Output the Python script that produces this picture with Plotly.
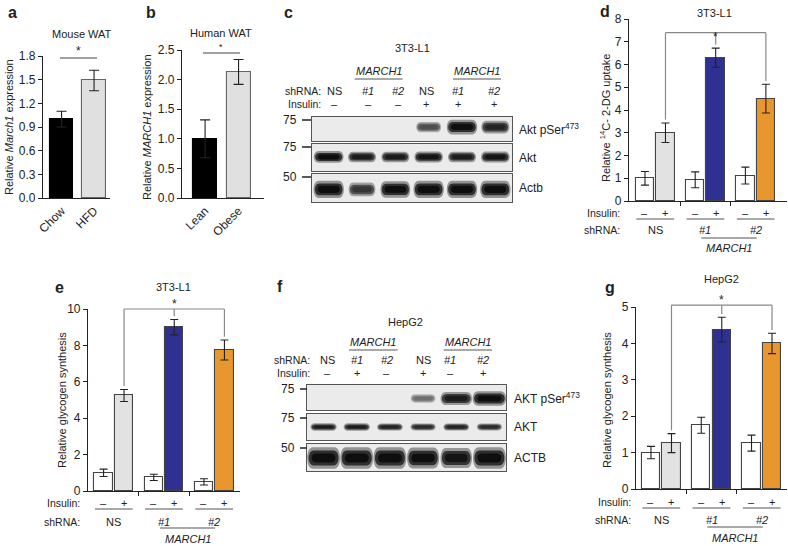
import plotly.graph_objects as go

W, H = 788, 546
FONT = 'Liberation Sans, Arial, Helvetica, sans-serif'
INK = '#222222'

# ---- data ----
mouse_groups = ['Chow', 'HFD']
mouse_march1 = [1.0, 1.49]
mouse_march1_err = [0.1, 0.13]

human_groups = ['Lean', 'Obese']
human_march1 = [1.0, 2.13]
human_march1_err = [0.32, 0.21]

# bar order: NS -, NS +, #1 -, #1 +, #2 -, #2 +
bar_shrna = ['NS', '#1', '#2']
bar_insulin = ['–', '+', '–', '+', '–', '+']
dg_uptake_3t3 = [1.0, 3.0, 0.93, 6.3, 1.12, 4.5]
dg_uptake_3t3_err = [0.3, 0.43, 0.35, 0.42, 0.37, 0.63]
glycogen_3t3 = [1.0, 5.25, 0.75, 9.0, 0.5, 7.75]
glycogen_3t3_err = [0.2, 0.33, 0.17, 0.42, 0.17, 0.55]
glycogen_hepg2 = [1.0, 1.26, 1.75, 4.38, 1.26, 4.0]
glycogen_hepg2_err = [0.17, 0.26, 0.22, 0.34, 0.22, 0.28]

# western blots, band intensity per lane
blot_shrna = ['NS', '#1', '#2', 'NS', '#1', '#2']
c_insulin = ['–', '–', '–', '+', '+', '+']
f_insulin = ['–', '+', '–', '+', '–', '+']
c_akt_p473 = [0, 0, 0, 0.55, 1.0, 0.8]
c_akt = [1.0, 0.85, 0.85, 0.9, 0.85, 0.9]
c_actb = [1.0, 0.7, 0.95, 1.0, 1.0, 1.0]
f_akt_p473 = [0, 0, 0, 0.35, 0.85, 1.0]
f_akt = [0.85, 0.85, 0.8, 0.75, 0.8, 0.75]
f_actb = [1.0, 1.0, 1.0, 0.95, 0.9, 1.0]

bar_colors = ['#ffffff', '#e2e2e2', '#ffffff', '#2e3192', '#ffffff', '#e8962e']
bar_x = [g * 2.45 + j for g in range(3) for j in range(2)]
group_x = [g * 2.45 + 0.5 for g in range(3)]


def X(p):
    return p / W


def Y(p):
    return 1 - p / H


fig = go.Figure()
annotations = []
shapes = []


def text(x, y, s, size=11, xanchor='center', xref='paper', **kw):
    annotations.append(dict(
        x=X(x) if xref == 'paper' else x, y=Y(y), xref=xref, yref='paper',
        text=s, showarrow=False, xanchor=xanchor, yanchor='middle',
        font=dict(size=size, color=INK, family=FONT), **kw))


def hline(x0, x1, y, xref='paper', color='#555555', width=1.2):
    if xref == 'paper':
        x0, x1 = X(x0), X(x1)
    shapes.append(dict(type='line', xref=xref, yref='paper', x0=x0, x1=x1,
                       y0=Y(y), y1=Y(y), line=dict(color=color, width=width)))


def sfx(k):
    return '' if k == 1 else str(k)


def bar_axes(k, xpx, ypx, xr, yr, dtick, fmt, xticks=None, xlabels=None):
    s = sfx(k)
    xa = dict(domain=[X(xpx[0]), X(xpx[1])], range=xr, anchor='y' + s,
              showline=True, linecolor=INK, linewidth=1.2, showgrid=False,
              zeroline=False, ticklen=4, tickcolor=INK, tickwidth=1.2,
              fixedrange=True)
    if xlabels:
        xa.update(tickvals=list(range(len(xlabels))), ticktext=xlabels,
                  tickangle=-45, ticks='',
                  tickfont=dict(size=12, color=INK, family=FONT))
    else:
        xa.update(tickvals=xticks or [], ticks='outside',
                  showticklabels=False)
    ya = dict(domain=[Y(ypx[1]), Y(ypx[0])], range=yr, anchor='x' + s,
              showline=True, linecolor=INK, linewidth=1.2, showgrid=False,
              zeroline=False, ticks='outside', ticklen=4, tickcolor=INK,
              tickwidth=1.2, tick0=0, dtick=dtick, tickformat=fmt,
              tickfont=dict(size=12, color=INK, family=FONT), fixedrange=True)
    fig.update_layout({'xaxis' + s: xa, 'yaxis' + s: ya})


def blot_axes(k, xpx, ypx):
    s = sfx(k)
    common = dict(showline=True, mirror=True, linecolor='#555555',
                  linewidth=1, showgrid=False, zeroline=False,
                  showticklabels=False, ticks='', fixedrange=True)
    fig.update_layout({
        'xaxis' + s: dict(domain=[X(xpx[0]), X(xpx[1])], range=[0.5, 6.5],
                          anchor='y' + s, **common),
        'yaxis' + s: dict(domain=[Y(ypx[1]), Y(ypx[0])], range=[0, 1],
                          anchor='x' + s, **common),
    })
    shapes.append(dict(type='rect', xref='x' + s + ' domain',
                       yref='y' + s + ' domain', x0=0, x1=1, y0=0, y1=1,
                       fillcolor='#ebebeb', line_width=0, layer='below'))


def grey(f):
    v = int(round(235 - f * (235 - 14)))
    return f'rgb({v},{v},{v})'


def capsule(xc, yc, w, h):
    x0, x1 = xc - w / 2, xc + w / 2
    y0, y1 = yc - h / 2, yc + h / 2
    r = w * 0.2
    return (f'M{x0 + r},{y0} L{x1 - r},{y0} C{x1},{y0} {x1},{y1} {x1 - r},{y1} '
            f'L{x0 + r},{y1} C{x0},{y1} {x0},{y0} {x0 + r},{y0} Z')


def bands(k, vals, yc, hmax, wmax):
    s = sfx(k)
    for lane, v in enumerate(vals, start=1):
        if v <= 0:
            continue
        w = wmax * (0.6 + 0.4 * v)
        h = hmax * (0.35 + 0.65 * v)
        dark = min(1.0, 0.3 + 0.75 * v)
        for grow_w, grow_h, f in ((1.1, 1.45, dark * 0.4),
                                  (1.0, 1.0, dark * 0.85),
                                  (0.8, 0.6, dark)):
            shapes.append(dict(type='path', xref='x' + s, yref='y' + s,
                               path=capsule(lane, yc, w * grow_w, h * grow_h),
                               fillcolor=grey(f), line_width=0))


def bar_panel(k, vals, errs, level, star_dy=5):
    s = sfx(k)
    fig.add_trace(go.Bar(
        x=bar_x, y=vals, width=0.9, xaxis='x' + s, yaxis='y' + s,
        marker=dict(color=bar_colors, line=dict(color='#444444', width=1.1)),
        error_y=dict(type='data', array=errs, color=INK, thickness=1.1,
                     width=4),
        showlegend=False, hoverinfo='y'))
    dom = fig.layout['yaxis' + s].domain
    rng = fig.layout['yaxis' + s].range

    def to_paper(v):
        return dom[0] + (v - rng[0]) / (rng[1] - rng[0]) * (dom[1] - dom[0])

    gap = rng[1] * 0.018
    top = to_paper(level)
    line = dict(color='#888888', width=1.2)
    shapes.append(dict(type='line', xref='x' + s, yref='paper',
                       x0=bar_x[1], x1=bar_x[5], y0=top, y1=top, line=line))
    for i in (1, 3, 5):
        shapes.append(dict(type='line', xref='x' + s, yref='paper',
                           x0=bar_x[i], x1=bar_x[i], y0=top,
                           y1=to_paper(vals[i] + errs[i] + gap), line=line))
    annotations.append(dict(x=bar_x[3], y=top, xref='x' + s, yref='paper',
                            text='*', showarrow=False, yshift=star_dy,
                            font=dict(size=12, color=INK, family=FONT)))


def bar_labels(k, lab_x, y_ins, y_line, y_sh, y_mline, y_march):
    s = 'x' + sfx(k)
    text(lab_x, y_ins, 'Insulin:', xanchor='right', size=10.5)
    text(lab_x, y_sh, 'shRNA:', xanchor='right', size=10.5)
    for x, sign in zip(bar_x, bar_insulin):
        text(x, y_ins, sign, xref=s)
    for gx, name in zip(group_x, bar_shrna):
        hline(gx - 0.92, gx + 0.92, y_line, xref=s)
        label = name if name == 'NS' else f'<i>{name}</i>'
        text(gx, y_sh, label, xref=s)
    hline(2.75, 5.45, y_mline, xref=s)
    text(4.1, y_march, '<i>MARCH1</i>', xref=s)


def blot_header(ref, lab_x, label_pos, insulin, y_sh, y_ins):
    text(lab_x, y_sh, 'shRNA:', xanchor='right', size=10.5)
    text(lab_x, y_ins, 'Insulin:', xanchor='right', size=10.5)
    for pos, sh, ins in zip(label_pos, blot_shrna, insulin):
        text(pos, y_sh, sh if sh == 'NS' else f'<i>{sh}</i>', xref=ref)
        text(pos, y_ins, ins, xref=ref)


# ---- a ----
bar_axes(1, (43, 110), (56, 198), [-0.57, 1.49], [0, 1.8], 0.3, '.1f',
         xlabels=mouse_groups)
fig.add_trace(go.Bar(
    x=[0, 1], y=mouse_march1, width=0.72, xaxis='x', yaxis='y',
    marker=dict(color=['#000000', '#e0e0e0'],
                line=dict(color=['#000000', '#666666'], width=1.1)),
    error_y=dict(type='data', array=mouse_march1_err, color=INK,
                 thickness=1.1, width=5),
    showlegend=False, hoverinfo='y'))
text(9, 127, 'Relative <i>March1</i> expression', textangle=-90)
text(82, 34, 'Mouse WAT')
hline(60, 97, 58, color='#444444')
text(78, 51, '*', size=12)

# ---- b ----
bar_axes(2, (182, 264), (50, 198), [-0.69, 1.76], [0, 2.5], 0.5, '.1f',
         xlabels=human_groups)
fig.add_trace(go.Bar(
    x=[0, 1], y=human_march1, width=0.72, xaxis='x2', yaxis='y2',
    marker=dict(color=['#000000', '#e0e0e0'],
                line=dict(color=['#000000', '#666666'], width=1.1)),
    error_y=dict(type='data', array=human_march1_err, color=INK,
                 thickness=1.1, width=5),
    showlegend=False, hoverinfo='y'))
text(147, 127, 'Relative <i>MARCH1</i> expression', textangle=-90)
text(221, 33, 'Human WAT')
hline(203, 240, 53, color='#444444')
text(221, 47, '*', size=9)

# ---- c ----
c_rows = [(117, 141), (144, 171), (174, 202)]
c_style = [(0.58, 0.42, 0.92), (0.52, 0.3, 0.9), (0.45, 0.42, 0.92)]
c_names = ['Akt pSer<sup>473</sup>', 'Akt', 'Actb']
c_marks = ['75', '75', '50']
for i, (vals, rows, st, name, mk) in enumerate(
        zip([c_akt_p473, c_akt, c_actb], c_rows, c_style, c_names, c_marks)):
    k = 3 + i
    blot_axes(k, (312, 512), rows)
    bands(k, vals, *st)
    text(517, (rows[0] + rows[1]) / 2, name, xanchor='left', size=12)
    text(299, rows[0] + 3, mk, xanchor='right', size=12)
    hline(302, 311, rows[0] + 3, color=INK, width=1.5)
text(412, 48, '3T3-L1')
blot_header('x3', 323, [1.16, 2.18, 3.08, 3.92, 4.88, 5.96], c_insulin,
            91, 104)
for cx in (2.5, 5.45):
    text(cx, 71, '<i>MARCH1</i>', xref='x3')
    hline(cx - 0.72, cx + 0.72, 79, xref='x3')

# ---- d ----
bar_axes(6, (629, 787), (19, 201), [-0.78, 6.93], [0, 8], 1, 'd',
         xticks=[1.725, 4.175])
bar_panel(6, dg_uptake_3t3, dg_uptake_3t3_err, 7.4)
text(605, 118, 'Relative <sup>14</sup>C- 2-DG uptake', textangle=-90)
text(714, 13, '3T3-L1')
bar_labels(6, 622, 213, 219, 230, 238, 248)

# ---- e ----
bar_axes(7, (88, 240), (309, 491), [-0.76, 6.66], [0, 10], 2, 'd',
         xticks=[1.725, 4.175])
bar_panel(7, glycogen_3t3, glycogen_3t3_err, 10.0)
text(62, 400, 'Relative glycogen synthesis', textangle=-90)
text(173, 287, '3T3-L1')
bar_labels(7, 82, 503, 509, 522, 528, 539)

# ---- f ----
f_rows = [(385, 410), (414, 440), (444, 471)]
f_style = [(0.46, 0.4, 1.02), (0.5, 0.22, 0.85), (0.48, 0.55, 1.0)]
f_names = ['AKT pSer<sup>473</sup>', 'AKT', 'ACTB']
f_marks = ['75', '75', '50']
for i, (vals, rows, st, name, mk) in enumerate(
        zip([f_akt_p473, f_akt, f_actb], f_rows, f_style, f_names, f_marks)):
    k = 8 + i
    blot_axes(k, (307, 506), rows)
    bands(k, vals, *st)
    text(512, (rows[0] + rows[1]) / 2, name, xanchor='left', size=12)
    text(297, rows[0] + 4, mk, xanchor='right', size=12)
    hline(300, 307, rows[0] + 4, color=INK, width=1.5)
text(405, 322, 'HepG2')
blot_header('x8', 312, [1.13, 2.0, 2.9, 4.0, 4.82, 5.81], f_insulin,
            360, 373)
for cx in (2.5, 5.35):
    text(cx, 342, '<i>MARCH1</i>', xref='x8')
    hline(cx - 0.73, cx + 0.73, 350, xref='x8')

# ---- g ----
bar_axes(11, (636, 787), (307, 489), [-0.73, 6.63], [0, 5], 1, 'd',
         xticks=[1.725, 4.175])
bar_panel(11, glycogen_hepg2, glycogen_hepg2_err, 5.05)
text(607, 400, 'Relative glycogen synthesis', textangle=-90)
text(721, 279, 'HepG2')
bar_labels(11, 633, 502, 508, 520, 527, 538)

# panel letters
for letter, x, y in [('a', 6, 12), ('b', 144, 12), ('c', 282, 12),
                     ('d', 598, 11), ('e', 53, 287), ('f', 275, 286),
                     ('g', 603, 287)]:
    text(x, y, f'<b>{letter}</b>', size=16, xanchor='left')

fig.update_layout(
    width=W, height=H, margin=dict(l=0, r=0, t=0, b=0),
    template='none', paper_bgcolor='white', plot_bgcolor='rgba(0,0,0,0)',
    font=dict(family=FONT, color=INK, size=11),
    annotations=annotations, shapes=shapes, showlegend=False, bargap=0)

fig.write_html('out.html', config={'displayModeBar': False},
               post_script="document.body.style.margin='0px';"
                           "document.body.style.overflow='hidden';")
